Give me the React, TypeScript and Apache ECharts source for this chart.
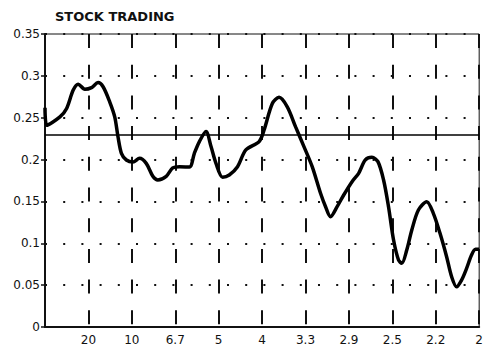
import React, { useEffect, useRef } from "react";
import * as echarts from "echarts";

const titleText = "STOCK TRADING";
const periodLabels = ["20", "10", "6.7", "5", "4", "3.3", "2.9", "2.5", "2.2", "2"];
const frequency = [
  0, 0.002, 0.0172, 0.0249, 0.0325, 0.0382, 0.0459, 0.0536, 0.0611, 0.0669,
  0.0745, 0.0803, 0.0841, 0.088, 0.0937, 0.1013, 0.1089, 0.1166, 0.1242, 0.1299,
  0.1396, 0.1471, 0.1548, 0.1663, 0.172, 0.1778, 0.1854, 0.1912, 0.1969, 0.2045,
  0.2122, 0.2217, 0.2313, 0.2466, 0.2523, 0.2618, 0.2695, 0.279, 0.2886, 0.2982,
  0.3077, 0.3173, 0.3231, 0.3288, 0.3364, 0.344, 0.3536, 0.3612, 0.3689, 0.3765,
  0.3834, 0.3899, 0.3956, 0.4014, 0.4071, 0.4109, 0.4166, 0.4224, 0.43, 0.4396,
  0.4472, 0.4549, 0.4625, 0.4683, 0.474, 0.4797, 0.4855, 0.4912, 0.4958, 0.5,
];
const power = [
  0.262, 0.241, 0.251, 0.261, 0.283, 0.29, 0.284, 0.286, 0.292, 0.287,
  0.269, 0.251, 0.227, 0.2075, 0.1995, 0.197, 0.2015, 0.1955, 0.18, 0.1756,
  0.18, 0.19, 0.1915, 0.191, 0.2075, 0.2215, 0.2335, 0.2155, 0.1955, 0.179,
  0.1816, 0.1915, 0.2115, 0.2215, 0.2353, 0.267, 0.2743, 0.263, 0.239, 0.2155,
  0.1915, 0.1597, 0.1437, 0.1318, 0.1437, 0.1577, 0.1736, 0.1836, 0.1995, 0.2027,
  0.1975, 0.1756, 0.1437, 0.1039, 0.08, 0.0761, 0.092, 0.1159, 0.1398, 0.1497,
  0.1358, 0.1119, 0.084, 0.06, 0.048, 0.056, 0.07, 0.086, 0.0928, 0.0928,
];
const referenceLevel = 0.234;
const yTicks = { min: 0, max: 0.35, interval: 0.05 };
const xTicks = { min: 0, max: 0.5, interval: 0.05 };

export default function App() {
  const ref = useRef<HTMLDivElement>(null);
  useEffect(() => {
    if (!ref.current) return;
    const chart = echarts.init(ref.current, null, { renderer: "svg" });
    const font = "DejaVu Sans";
    chart.setOption({
      animation: false,
      backgroundColor: "#fff",
      title: {
        text: titleText,
        left: 50,
        top: 5,
        textStyle: { fontFamily: font, fontSize: 13, fontWeight: "bold", color: "#111" },
      },
      grid: {
        left: 45,
        right: 5,
        top: 34,
        bottom: 27,
        show: true,
        borderColor: "#111",
        borderWidth: 1,
        backgroundColor: "transparent",
      },
      xAxis: {
        type: "value",
        min: xTicks.min,
        max: xTicks.max,
        interval: xTicks.interval,
        axisLine: { show: true, onZero: false, lineStyle: { color: "#111", width: 2 } },
        axisTick: { show: false },
        axisLabel: {
          fontFamily: font,
          fontSize: 12,
          color: "#111",
          margin: 7,
          formatter: (v: number) => {
            const i = Math.round(v / xTicks.interval) - 1;
            return i >= 0 && i < periodLabels.length ? periodLabels[i] : "";
          },
        },
        splitLine: {
          show: true,
          lineStyle: { color: "#111", width: 2, type: [14, 16.7] },
        },
      },
      yAxis: {
        type: "value",
        min: yTicks.min,
        max: yTicks.max,
        interval: yTicks.interval,
        axisLine: { show: true, lineStyle: { color: "#111", width: 2 } },
        axisTick: { show: true, length: 4, lineStyle: { color: "#111", width: 1.5 } },
        axisLabel: {
          fontFamily: font,
          fontSize: 12,
          color: "#111",
          margin: 5,
          formatter: (v: number) => String(+v.toFixed(2)),
        },
        splitLine: {
          show: true,
          lineStyle: { color: "#111", width: 2, type: [2, 16.2] },
        },
      },
      series: [
        {
          type: "line",
          data: frequency.map((f, i) => [f, power[i]]),
          showSymbol: false,
          smooth: 0.3,
          lineStyle: { color: "#000", width: 3.5 },
          markLine: {
            silent: true,
            symbol: "none",
            label: { show: false },
            lineStyle: { color: "#000", width: 1.5, type: "solid" },
            data: [{ yAxis: referenceLevel }],
          },
        },
      ],
    });
    return () => chart.dispose();
  }, []);
  return (
    <div
      ref={ref}
      style={{ position: "absolute", left: 0, top: 0, width: 486, height: 354 }}
    />
  );
}
